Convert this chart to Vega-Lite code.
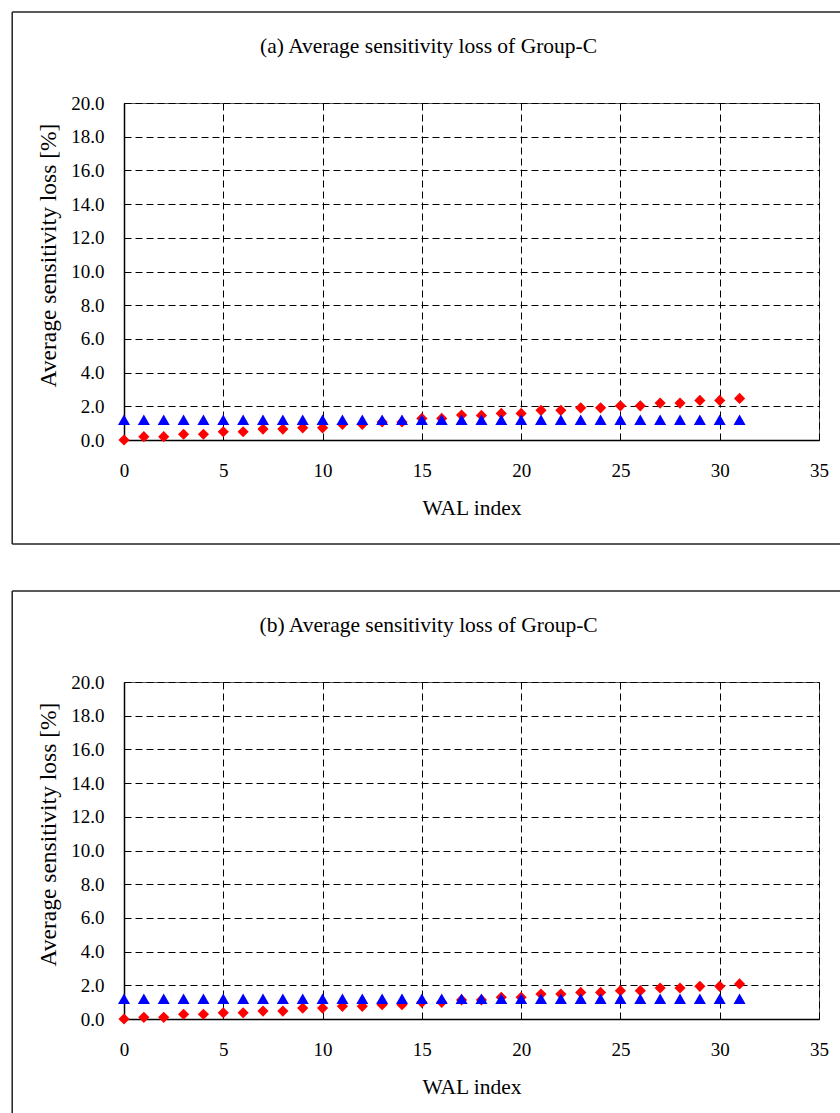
{
  "$schema": "https://vega.github.io/schema/vega-lite/v6.json",
  "padding": {"left": 10, "top": 10, "right": 0, "bottom": 0},
  "spacing": 43,
  "config": {
    "font": "Liberation Serif",
    "view": {"stroke": "#555", "strokeWidth": 1},
    "axis": {
      "labelFont": "Liberation Serif", "titleFont": "Liberation Serif",
      "labelColor": "#000", "titleColor": "#000", "titleFontWeight": "normal",
      "labelFontSize": 19, "titleFontSize": 21.5,
      "domainColor": "#000", "domainWidth": 1.5,
      "grid": true, "gridColor": "#000", "gridDash": [7, 4], "gridOpacity": 1, "gridWidth": 1,
      "ticks": false, "tickSize": 0, "labelFlush": false, "labelOverlap": false
    }
  },
  "datasets": {
    "a": [
      {"i":0,"s":"r","v":0},{"i":1,"s":"r","v":0.2},{"i":2,"s":"r","v":0.2},{"i":3,"s":"r","v":0.34},{"i":4,"s":"r","v":0.34},{"i":5,"s":"r","v":0.49},{"i":6,"s":"r","v":0.49},{"i":7,"s":"r","v":0.65},{"i":8,"s":"r","v":0.65},{"i":9,"s":"r","v":0.72},{"i":10,"s":"r","v":0.72},{"i":11,"s":"r","v":0.93},{"i":12,"s":"r","v":0.93},{"i":13,"s":"r","v":1.07},{"i":14,"s":"r","v":1.07},{"i":15,"s":"r","v":1.28},{"i":16,"s":"r","v":1.28},{"i":17,"s":"r","v":1.48},{"i":18,"s":"r","v":1.46},{"i":19,"s":"r","v":1.58},{"i":20,"s":"r","v":1.58},{"i":21,"s":"r","v":1.76},{"i":22,"s":"r","v":1.76},{"i":23,"s":"r","v":1.91},{"i":24,"s":"r","v":1.91},{"i":25,"s":"r","v":2.03},{"i":26,"s":"r","v":2.03},{"i":27,"s":"r","v":2.19},{"i":28,"s":"r","v":2.19},{"i":29,"s":"r","v":2.35},{"i":30,"s":"r","v":2.35},{"i":31,"s":"r","v":2.47},
      {"i":0,"s":"b","v":1.2},{"i":1,"s":"b","v":1.2},{"i":2,"s":"b","v":1.2},{"i":3,"s":"b","v":1.2},{"i":4,"s":"b","v":1.2},{"i":5,"s":"b","v":1.2},{"i":6,"s":"b","v":1.2},{"i":7,"s":"b","v":1.2},{"i":8,"s":"b","v":1.2},{"i":9,"s":"b","v":1.2},{"i":10,"s":"b","v":1.2},{"i":11,"s":"b","v":1.2},{"i":12,"s":"b","v":1.2},{"i":13,"s":"b","v":1.2},{"i":14,"s":"b","v":1.2},{"i":15,"s":"b","v":1.2},{"i":16,"s":"b","v":1.2},{"i":17,"s":"b","v":1.2},{"i":18,"s":"b","v":1.2},{"i":19,"s":"b","v":1.2},{"i":20,"s":"b","v":1.2},{"i":21,"s":"b","v":1.2},{"i":22,"s":"b","v":1.2},{"i":23,"s":"b","v":1.2},{"i":24,"s":"b","v":1.2},{"i":25,"s":"b","v":1.2},{"i":26,"s":"b","v":1.2},{"i":27,"s":"b","v":1.2},{"i":28,"s":"b","v":1.2},{"i":29,"s":"b","v":1.2},{"i":30,"s":"b","v":1.2},{"i":31,"s":"b","v":1.2}
    ],
    "b": [
      {"i":0,"s":"r","v":0},{"i":1,"s":"r","v":0.1},{"i":2,"s":"r","v":0.1},{"i":3,"s":"r","v":0.28},{"i":4,"s":"r","v":0.28},{"i":5,"s":"r","v":0.37},{"i":6,"s":"r","v":0.37},{"i":7,"s":"r","v":0.47},{"i":8,"s":"r","v":0.47},{"i":9,"s":"r","v":0.65},{"i":10,"s":"r","v":0.65},{"i":11,"s":"r","v":0.75},{"i":12,"s":"r","v":0.75},{"i":13,"s":"r","v":0.85},{"i":14,"s":"r","v":0.85},{"i":15,"s":"r","v":0.99},{"i":16,"s":"r","v":0.99},{"i":17,"s":"r","v":1.13},{"i":18,"s":"r","v":1.13},{"i":19,"s":"r","v":1.29},{"i":20,"s":"r","v":1.29},{"i":21,"s":"r","v":1.48},{"i":22,"s":"r","v":1.48},{"i":23,"s":"r","v":1.58},{"i":24,"s":"r","v":1.58},{"i":25,"s":"r","v":1.68},{"i":26,"s":"r","v":1.68},{"i":27,"s":"r","v":1.84},{"i":28,"s":"r","v":1.84},{"i":29,"s":"r","v":1.94},{"i":30,"s":"r","v":1.94},{"i":31,"s":"r","v":2.08},
      {"i":0,"s":"b","v":1.2},{"i":1,"s":"b","v":1.2},{"i":2,"s":"b","v":1.2},{"i":3,"s":"b","v":1.2},{"i":4,"s":"b","v":1.2},{"i":5,"s":"b","v":1.2},{"i":6,"s":"b","v":1.2},{"i":7,"s":"b","v":1.2},{"i":8,"s":"b","v":1.2},{"i":9,"s":"b","v":1.2},{"i":10,"s":"b","v":1.2},{"i":11,"s":"b","v":1.2},{"i":12,"s":"b","v":1.2},{"i":13,"s":"b","v":1.2},{"i":14,"s":"b","v":1.2},{"i":15,"s":"b","v":1.2},{"i":16,"s":"b","v":1.2},{"i":17,"s":"b","v":1.2},{"i":18,"s":"b","v":1.2},{"i":19,"s":"b","v":1.2},{"i":20,"s":"b","v":1.2},{"i":21,"s":"b","v":1.2},{"i":22,"s":"b","v":1.2},{"i":23,"s":"b","v":1.2},{"i":24,"s":"b","v":1.2},{"i":25,"s":"b","v":1.2},{"i":26,"s":"b","v":1.2},{"i":27,"s":"b","v":1.2},{"i":28,"s":"b","v":1.2},{"i":29,"s":"b","v":1.2},{"i":30,"s":"b","v":1.2},{"i":31,"s":"b","v":1.2}
    ]
  },
  "vconcat": [
    {
      "width": 695, "height": 337,
      "layer": [
        {
          "data": {"name": "a"},
          "transform": [{"filter": "datum.s === 'r'"}],
          "mark": {"type": "point", "shape": "diamond", "filled": true, "opacity": 1, "size": 125, "color": "#ff0000", "strokeWidth": 0},
          "encoding": {
            "x": {"field": "i", "type": "quantitative", "scale": {"domain": [0, 35], "nice": false, "zero": false},
                  "axis": {"values": [0,5,10,15,20,25,30,35], "tickCount": 20, "title": "WAL index", "labelPadding": 21, "titlePadding": 17}},
            "y": {"field": "v", "type": "quantitative", "scale": {"domain": [0, 20], "nice": false, "zero": false},
                  "axis": {"values": [0,2,4,6,8,10,12,14,16,18,20], "tickCount": 20, "format": ".1f", "title": "Average sensitivity loss [%]", "titleFontSize": 23.5, "titleY": 152, "labelPadding": 20, "titlePadding": 10}}
          }
        },
        {
          "data": {"name": "a"},
          "transform": [{"filter": "datum.s === 'b'"}],
          "mark": {"type": "point", "shape": "triangle-up", "filled": true, "opacity": 1, "size": 145, "color": "#0000ff", "strokeWidth": 0},
          "encoding": {
            "x": {"field": "i", "type": "quantitative", "scale": {"domain": [0, 35], "nice": false, "zero": false}},
            "y": {"field": "v", "type": "quantitative", "scale": {"domain": [0, 20], "nice": false, "zero": false}}
          }
        },
        {
          "data": {"values": [{}]},
          "mark": {"type": "rule", "color": "#222", "strokeWidth": 1.5},
          "encoding": {
            "x": {"datum": -5.63, "scale": {"domain": [0, 35]}},
            "x2": {"datum": 36.14},
            "y": {"datum": 25.4, "scale": {"domain": [0, 20]}}
          }
        },
        {
          "data": {"values": [{}]},
          "mark": {"type": "rule", "color": "#222", "strokeWidth": 1.5},
          "encoding": {
            "x": {"datum": -5.63, "scale": {"domain": [0, 35]}},
            "x2": {"datum": 36.14},
            "y": {"datum": -6.17, "scale": {"domain": [0, 20]}}
          }
        },
        {
          "data": {"values": [{}]},
          "mark": {"type": "rule", "color": "#222", "strokeWidth": 1.5},
          "encoding": {
            "x": {"datum": -5.63, "scale": {"domain": [0, 35]}},
            "y": {"datum": 25.4, "scale": {"domain": [0, 20]}},
            "y2": {"datum": -6.17}
          }
        },
        {
          "data": {"values": [{}]},
          "mark": {"type": "text", "font": "Liberation Serif", "fontSize": 21.5, "color": "#000", "align": "center", "baseline": "middle"},
          "encoding": {
            "x": {"datum": 15.34, "scale": {"domain": [0, 35]}},
            "y": {"datum": 23.35, "scale": {"domain": [0, 20]}},
            "text": {"value": "(a) Average sensitivity loss of Group-C"}
          }
        }
      ]
    },
    {
      "width": 695, "height": 337,
      "layer": [
        {
          "data": {"name": "b"},
          "transform": [{"filter": "datum.s === 'r'"}],
          "mark": {"type": "point", "shape": "diamond", "filled": true, "opacity": 1, "size": 125, "color": "#ff0000", "strokeWidth": 0},
          "encoding": {
            "x": {"field": "i", "type": "quantitative", "scale": {"domain": [0, 35], "nice": false, "zero": false},
                  "axis": {"values": [0,5,10,15,20,25,30,35], "tickCount": 20, "title": "WAL index", "labelPadding": 21, "titlePadding": 17}},
            "y": {"field": "v", "type": "quantitative", "scale": {"domain": [0, 20], "nice": false, "zero": false},
                  "axis": {"values": [0,2,4,6,8,10,12,14,16,18,20], "tickCount": 20, "format": ".1f", "title": "Average sensitivity loss [%]", "titleFontSize": 23.5, "titleY": 152, "labelPadding": 20, "titlePadding": 10}}
          }
        },
        {
          "data": {"name": "b"},
          "transform": [{"filter": "datum.s === 'b'"}],
          "mark": {"type": "point", "shape": "triangle-up", "filled": true, "opacity": 1, "size": 145, "color": "#0000ff", "strokeWidth": 0},
          "encoding": {
            "x": {"field": "i", "type": "quantitative", "scale": {"domain": [0, 35], "nice": false, "zero": false}},
            "y": {"field": "v", "type": "quantitative", "scale": {"domain": [0, 20], "nice": false, "zero": false}}
          }
        },
        {
          "data": {"values": [{}]},
          "mark": {"type": "rule", "color": "#222", "strokeWidth": 1.5},
          "encoding": {
            "x": {"datum": -5.63, "scale": {"domain": [0, 35]}},
            "x2": {"datum": 36.14},
            "y": {"datum": 25.4, "scale": {"domain": [0, 20]}}
          }
        },
        {
          "data": {"values": [{}]},
          "mark": {"type": "rule", "color": "#222", "strokeWidth": 1.5},
          "encoding": {
            "x": {"datum": -5.63, "scale": {"domain": [0, 35]}},
            "y": {"datum": 25.4, "scale": {"domain": [0, 20]}},
            "y2": {"datum": -5.75}
          }
        },
        {
          "data": {"values": [{}]},
          "mark": {"type": "text", "font": "Liberation Serif", "fontSize": 21.5, "color": "#000", "align": "center", "baseline": "middle"},
          "encoding": {
            "x": {"datum": 15.34, "scale": {"domain": [0, 35]}},
            "y": {"datum": 23.35, "scale": {"domain": [0, 20]}},
            "text": {"value": "(b) Average sensitivity loss of Group-C"}
          }
        }
      ]
    }
  ]
}
